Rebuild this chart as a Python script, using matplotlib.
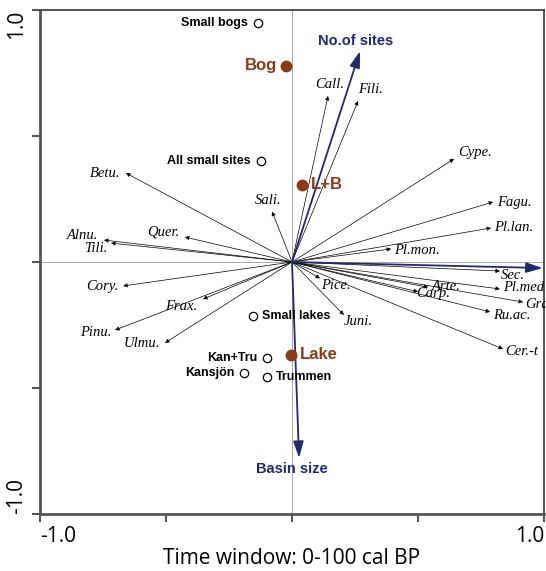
import matplotlib
matplotlib.use("Agg")
import matplotlib.pyplot as plt

# species arrows (axis 1, axis 2)
species = ["Betu.", "Quer.", "Alnu.", "Tili.", "Sali.", "Call.", "Fili.", "Cype.",
           "Fagu.", "Pl.lan.", "Pl.mon.", "Sec.", "Pl.med", "Gram.", "Ru.ac.",
           "Cer.-t", "Arte.", "Carp.", "Pice.", "Juni.", "Cory.", "Frax.",
           "Pinu.", "Ulmu."]
sp_x = [-0.659, -0.425, -0.746, -0.718, -0.079, 0.143, 0.262, 0.643,
        0.798, 0.790, 0.393, 0.825, 0.825, 0.917, 0.786,
        0.837, 0.540, 0.500, 0.111, 0.206, -0.670, -0.353,
        -0.702, -0.504]
sp_y = [0.353, 0.099, 0.087, 0.075, 0.200, 0.659, 0.639, 0.409,
        0.238, 0.135, 0.052, -0.036, -0.107, -0.159, -0.198,
        -0.345, -0.100, -0.118, -0.065, -0.210, -0.095, -0.147,
        -0.270, -0.321]

# environmental variables
env = ["No.of sites", "Basin size", ""]
env_x = [0.270, 0.028, 0.995]
env_y = [0.837, -0.778, -0.024]

# sites (open) and groups (filled)
sites = ["Small bogs", "All small sites", "Small lakes", "Kan+Tru", "Kansjön", "Trummen"]
site_x = [-0.135, -0.123, -0.155, -0.099, -0.190, -0.099]
site_y = [0.948, 0.401, -0.214, -0.381, -0.440, -0.456]

groups = ["Bog", "L+B", "Lake"]
grp_x = [-0.024, 0.040, -0.004]
grp_y = [0.778, 0.306, -0.369]

# label placement (pixel offsets, alignment)
sp_off = {"Betu.": (-6, 0, "right"), "Quer.": (-5, 5, "right"), "Alnu.": (-6, 5, "right"),
          "Tili.": (-4, -5, "right"), "Sali.": (-4, 11, "center"), "Call.": (2, 11, "center"),
          "Fili.": (0, 11, "left"), "Cype.": (4, 6, "left"), "Fagu.": (4, 0, "left"),
          "Pl.lan.": (3, 0, "left"), "Pl.mon.": (3, -2, "left"), "Sec.": (1, -4, "left"),
          "Pl.med": (3, 1, "left"), "Gram.": (2, -2, "left"), "Ru.ac.": (3, -4, "left"),
          "Cer.-t": (2, -3, "left"), "Arte.": (4, 1, "left"), "Carp.": (-2, -2, "left"),
          "Pice.": (1, -7, "left"), "Juni.": (0, -7, "left"), "Cory.": (-5, -1, "right"),
          "Frax.": (-6, -7, "right"), "Pinu.": (-4, -2, "right"), "Ulmu.": (-5, -1, "right")}
site_side = {"Small bogs": "left", "All small sites": "left", "Small lakes": "right",
             "Kan+Tru": "left", "Kansjön": "left", "Trummen": "right"}
grp_side = {"Bog": "left", "L+B": "right", "Lake": "right"}

navy = "#1f2a6e"
brown = "#8a3a17"

fig = plt.figure(figsize=(5.46, 5.71), dpi=100)
ax = fig.add_axes([40 / 546, 57 / 571, 504 / 546, 504 / 571])
ax.set_xlim(-1, 1)
ax.set_ylim(-1, 1)

ax.axhline(0, color="#9a9a9a", lw=0.6, zorder=0)
ax.axvline(0, color="#9a9a9a", lw=0.6, zorder=0)

for name, x, y in zip(species, sp_x, sp_y):
    ax.annotate("", xy=(x, y), xytext=(0, 0),
                arrowprops=dict(arrowstyle="-|>", lw=0.5, color="black",
                                mutation_scale=6, shrinkA=0, shrinkB=0))
    dx, dy, ha = sp_off[name]
    t = ax.annotate(name, xy=(x, y), xytext=(dx, dy), textcoords="offset pixels",
                    ha=ha, va="center", fontsize=10.5, style="italic",
                    family="Liberation Serif", annotation_clip=False)
    t.set_clip_on(True)

for name, x, y in zip(env, env_x, env_y):
    ax.annotate("", xy=(x, y), xytext=(0, 0),
                arrowprops=dict(arrowstyle="-|>,head_length=0.9,head_width=0.28",
                                lw=1.3, color=navy, mutation_scale=11,
                                shrinkA=0, shrinkB=0))
ax.text(0.252, 0.878, "No.of sites", color=navy, fontsize=10.5, fontweight="bold",
        family="Liberation Sans", ha="center", va="center")
ax.text(0.0, -0.82, "Basin size", color=navy, fontsize=10.5, fontweight="bold",
        family="Liberation Sans", ha="center", va="center")

ax.plot(site_x, site_y, "o", mfc="white", mec="black", mew=0.9, ms=6, ls="none", zorder=5)
for name, x, y in zip(sites, site_x, site_y):
    side = site_side[name]
    off = -10 if side == "left" else 9
    ax.annotate(name, xy=(x, y), xytext=(off, 0), textcoords="offset pixels",
                ha="right" if side == "left" else "left", va="center",
                fontsize=9, fontweight="bold", family="Liberation Sans")

ax.plot(grp_x, grp_y, "o", color=brown, ms=7.5, ls="none", zorder=6)
for name, x, y in zip(groups, grp_x, grp_y):
    side = grp_side[name]
    off = -9 if side == "left" else 9
    ax.annotate(name, xy=(x, y), xytext=(off, 0), textcoords="offset pixels",
                ha="right" if side == "left" else "left", va="center",
                fontsize=12, fontweight="bold", family="Liberation Sans", color=brown)

# frame and ticks
for s in ["top", "right"]:
    ax.spines[s].set_color("#444444")
    ax.spines[s].set_linewidth(1.3)
for s in ["left", "bottom"]:
    ax.spines[s].set_color("#555555")
    ax.spines[s].set_linewidth(2)

ax.set_xticks([-1, -0.5, 0, 0.5, 1])
ax.set_xticklabels(["-1.0", "", "", "", "1.0"])
ax.set_yticks([-1, -0.5, 0, 0.5, 1])
ax.set_yticklabels(["-1.0", "", "", "", "1.0"])
ax.tick_params(direction="out", length=6, width=1.5, color="#555555",
               labelsize=15, pad=3)
ax.tick_params(axis="y", labelrotation=90)
xl = ax.get_xticklabels()
xl[0].set_ha("left")
xl[-1].set_ha("right")
yl = ax.get_yticklabels()
yl[0].set_va("bottom")
yl[-1].set_va("top")
for lbl in xl + yl:
    lbl.set_family("Open Sans")

ax.set_xlabel("Time window: 0-100 cal BP", fontsize=15, family="Open Sans", labelpad=0)

fig.savefig("out.png", dpi=100)
